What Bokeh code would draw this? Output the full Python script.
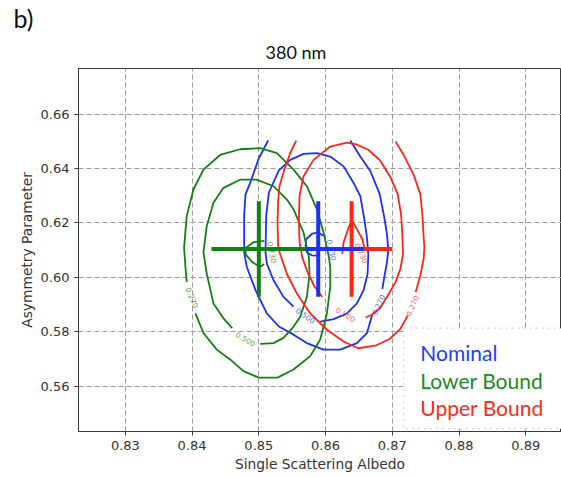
import math
from bokeh.plotting import figure
from bokeh.models import ColumnDataSource, FixedTicker, BoxAnnotation, Label, Title, Range1d
from bokeh.core.properties import value
from bokeh.embed import file_html
from bokeh.resources import INLINE

# ---------------- data ----------------
title_text = "380 nm"
panel_tag = "b)"
x_label = "Single Scattering Albedo"
y_label = "Asymmetry Parameter"
x_ticks = [0.83, 0.84, 0.85, 0.86, 0.87, 0.88, 0.89]
x_tick_labels = ["0.83", "0.84", "0.85", "0.86", "0.87", "0.88", "0.89"]
y_ticks = [0.56, 0.58, 0.60, 0.62, 0.64, 0.66]
y_tick_labels = ["0.56", "0.58", "0.60", "0.62", "0.64", "0.66"]

cases = ["Nominal", "Lower Bound", "Upper Bound"]
case_colors = ["#1a30ff", "#138013", "#ff2418"]
text_colors = ["#1f3cff", "#1f8a1f", "#ff2a1a"]

# best-fit retrieval and its uncertainty (Nominal, Lower Bound, Upper Bound)
ssa_best = [0.8589, 0.8500, 0.8639]
g_best = [0.6104, 0.6104, 0.6104]
ssa_err_lo = [0.0068, 0.0071, 0.0070]
ssa_err_hi = [0.0068, 0.0070, 0.0061]
g_err = [0.0176, 0.0176, 0.0176]

# contour paths (single scattering albedo, asymmetry parameter)
nominal_c270_ssa_a = [0.8514, 0.8500, 0.8487, 0.8480, 0.8478, 0.8478, 0.8482, 0.8495, 0.8512,
                      0.8530, 0.8552, 0.8572, 0.8597, 0.8622, 0.8647, 0.8662, 0.8670]
nominal_c270_g_a = [0.6503, 0.6438, 0.6347, 0.6305, 0.6226, 0.6092, 0.6038, 0.5953, 0.5867,
                    0.5819, 0.5789, 0.5758, 0.5734, 0.5734, 0.5758, 0.5795, 0.5863]
nominal_c270_ssa_b = [0.8685, 0.8688, 0.8692, 0.8694, 0.8692, 0.8688, 0.8681, 0.8667, 0.8652, 0.8637]
nominal_c270_g_b = [0.5957, 0.6001, 0.6056, 0.6100, 0.6158, 0.6220, 0.6307, 0.6391, 0.6444, 0.6503]
nominal_c500_ssa = [0.8592, 0.8612, 0.8632, 0.8647, 0.8657, 0.8663, 0.8664, 0.8662, 0.8658, 0.8652,
                    0.8642, 0.8627, 0.8607, 0.8587, 0.8567, 0.8547, 0.8530, 0.8515, 0.8511, 0.8510,
                    0.8512, 0.8522, 0.8537, 0.8552]
nominal_c500_g = [0.5837, 0.5846, 0.5867, 0.5904, 0.5953, 0.6013, 0.6085, 0.6147, 0.6214, 0.6299,
                  0.6347, 0.6408, 0.6444, 0.6457, 0.6454, 0.6432, 0.6393, 0.6311, 0.6226, 0.6092,
                  0.6050, 0.5989, 0.5928, 0.5892]
nominal_c730_ssa = [0.8597, 0.8589, 0.8580, 0.8571, 0.8570, 0.8572, 0.8579, 0.8587]
nominal_c730_g = [0.6153, 0.6165, 0.6161, 0.6140, 0.6117, 0.6092, 0.6081, 0.6080]

lower_c270_ssa = [0.8405, 0.8417, 0.8437, 0.8457, 0.8477, 0.8500, 0.8528, 0.8552, 0.8577, 0.8592,
                  0.8602, 0.8607, 0.8607, 0.8605, 0.8597, 0.8587, 0.8572, 0.8552, 0.8527, 0.8502,
                  0.8472, 0.8442, 0.8417, 0.8402, 0.8392, 0.8388, 0.8390, 0.8392]
lower_c270_g = [0.5867, 0.5795, 0.5734, 0.5698, 0.5655, 0.5631, 0.5631, 0.5661, 0.5710, 0.5771,
                0.5867, 0.5965, 0.6038, 0.6074, 0.6165, 0.6250, 0.6335, 0.6396, 0.6457, 0.6475,
                0.6471, 0.6450, 0.6396, 0.6323, 0.6226, 0.6110, 0.6038, 0.5983]
lower_c500_ssa = [0.8502, 0.8522, 0.8537, 0.8550, 0.8562, 0.8572, 0.8576, 0.8575, 0.8567, 0.8552,
                  0.8542, 0.8522, 0.8497, 0.8472, 0.8447, 0.8432, 0.8422, 0.8417, 0.8422, 0.8432,
                  0.8447, 0.8460]
lower_c500_g = [0.5755, 0.5758, 0.5777, 0.5812, 0.5855, 0.5928, 0.6013, 0.6074, 0.6165, 0.6250,
                0.6286, 0.6335, 0.6359, 0.6359, 0.6329, 0.6274, 0.6189, 0.6092, 0.6013, 0.5904,
                0.5849, 0.5813]
lower_c730_ssa = [0.8508, 0.8492, 0.8481, 0.8480, 0.8490, 0.8502, 0.8508]
lower_c730_g = [0.6134, 0.6129, 0.6110, 0.6085, 0.6056, 0.6038, 0.6049]

upper_c270_ssa_a = [0.8556, 0.8547, 0.8538, 0.8531, 0.8529, 0.8528, 0.8529, 0.8532, 0.8542,
                    0.8557, 0.8577, 0.8602, 0.8627, 0.8649, 0.8676, 0.8696, 0.8712, 0.8723]
upper_c270_g_a = [0.6503, 0.6457, 0.6395, 0.6336, 0.6285, 0.6202, 0.6110, 0.6085, 0.6013,
                  0.5940, 0.5867, 0.5807, 0.5764, 0.5739, 0.5750, 0.5773, 0.5810, 0.5859]
upper_c270_ssa_b = [0.8735, 0.8742, 0.8747, 0.8748, 0.8747, 0.8745, 0.8742, 0.8732, 0.8717, 0.8705]
upper_c270_g_b = [0.5946, 0.6007, 0.6068, 0.6110, 0.6147, 0.6232, 0.6305, 0.6377, 0.6450, 0.6499]
upper_c500_ssa = [0.8660, 0.8670, 0.8682, 0.8694, 0.8705, 0.8712, 0.8716, 0.8715, 0.8713, 0.8708,
                  0.8697, 0.8682, 0.8664, 0.8646, 0.8632, 0.8607, 0.8582, 0.8567, 0.8561, 0.8560,
                  0.8561, 0.8565, 0.8573, 0.8583, 0.8595]
upper_c500_g = [0.5852, 0.5863, 0.5888, 0.5936, 0.5983, 0.6030, 0.6085, 0.6161, 0.6234, 0.6307,
                0.6369, 0.6429, 0.6469, 0.6489, 0.6495, 0.6481, 0.6432, 0.6372, 0.6299, 0.6214,
                0.6129, 0.6074, 0.6019, 0.5968, 0.5928]
upper_c730_ssa = [0.8625, 0.8627, 0.8632, 0.8639, 0.8647, 0.8655, 0.8658]
upper_c730_g = [0.6086, 0.6129, 0.6165, 0.6212, 0.6177, 0.6141, 0.6110]

# inline contour labels
clabel_case = [1, 1, 1, 0, 0, 0, 2, 2, 2]
clabel_text = ["0.270", "0.500", "0.730", "0.730", "0.500", "0.270", "0.500", "0.270", "0.730"]
clabel_ssa = [0.8400, 0.8480, 0.8520, 0.8609, 0.8570, 0.8679, 0.8630, 0.8730, 0.8654]
clabel_g = [0.5925, 0.5773, 0.6092, 0.6100, 0.5859, 0.5899, 0.5863, 0.5895, 0.6089]
clabel_angle_deg = [-68, -30, -80, -78, -35, 66, -31, 66, -65]

# ---------------- figure ----------------
p = figure(width=561, height=477, output_backend="svg", toolbar_location=None,
           x_range=Range1d(0.82298, 0.89535), y_range=Range1d(0.54328, 0.67680),
           min_border_left=78, min_border_right=0, min_border_top=64, min_border_bottom=46)
p.background_fill_color = "white"
p.border_fill_color = "white"
p.outline_line_color = "#3a3a3a"
p.outline_line_width = 1

# outer title: panel tag
p.title.text = panel_tag
p.title.align = "left"
p.title.offset = -65
p.title.text_font = "Lato"
p.title.text_font_size = "25px"
p.title.text_font_style = "normal"
p.title.text_color = "#111111"
p.title.standoff = 0

# inner title: wavelength
sub = Title(text=title_text, align="left", offset=187, text_font="Lato",
            text_font_size="18px", text_font_style="normal", text_color="#111111", standoff=12)
p.add_layout(sub, "above")

for ax in (p.xaxis, p.yaxis):
    ax.axis_line_color = "#3a3a3a"
    ax.major_tick_line_color = "#3a3a3a"
    ax.major_tick_in = 0
    ax.major_tick_out = 4
    ax.minor_tick_line_color = None
    ax.major_label_text_font = "DejaVu Sans"
    ax.major_label_text_font_size = "13px"
    ax.major_label_text_color = "#333333"
    ax.axis_label_text_font = "DejaVu Sans"
    ax.axis_label_text_font_size = "13.8px"
    ax.axis_label_text_font_style = "normal"
    ax.axis_label_text_color = "#333333"

p.xaxis.ticker = FixedTicker(ticks=x_ticks)
p.xaxis.major_label_overrides = dict(zip(x_ticks, x_tick_labels))
p.yaxis.ticker = FixedTicker(ticks=y_ticks)
p.yaxis.major_label_overrides = dict(zip(y_ticks, y_tick_labels))
p.xaxis.axis_label = x_label
p.yaxis.axis_label = y_label
p.xaxis.major_label_standoff = 5
p.xaxis.axis_label_standoff = 3
p.yaxis.major_label_standoff = 5
p.yaxis.axis_label_standoff = 3

for g in (p.xgrid, p.ygrid):
    g.grid_line_color = "#9a9a9a"
    g.grid_line_width = 1
    g.grid_line_dash = "5 3"
p.xgrid.ticker = FixedTicker(ticks=x_ticks)
p.ygrid.ticker = FixedTicker(ticks=y_ticks)

# contours
contours = [
    (0, nominal_c270_ssa_a, nominal_c270_g_a), (0, nominal_c270_ssa_b, nominal_c270_g_b),
    (0, nominal_c500_ssa, nominal_c500_g), (0, nominal_c730_ssa, nominal_c730_g),
    (1, lower_c270_ssa, lower_c270_g), (1, lower_c500_ssa, lower_c500_g),
    (1, lower_c730_ssa, lower_c730_g),
    (2, upper_c270_ssa_a, upper_c270_g_a), (2, upper_c270_ssa_b, upper_c270_g_b),
    (2, upper_c500_ssa, upper_c500_g), (2, upper_c730_ssa, upper_c730_g),
]
for ci, xs, ys in contours:
    p.line(xs, ys, line_color=case_colors[ci], line_width=1.8, line_join="round")

lab_src = ColumnDataSource(dict(
    x=clabel_ssa, y=clabel_g, text=clabel_text,
    angle=[math.radians(a) for a in clabel_angle_deg],
    color=[case_colors[i] for i in clabel_case]))
p.text(x="x", y="y", text="text", angle="angle", source=lab_src, text_color="color",
       text_alpha=0.75, text_font=value("DejaVu Sans"), text_font_size="7.5px",
       text_align="center", text_baseline="middle")

# error bars (drawn Upper, Nominal, Lower)
for i in (2, 0, 1):
    p.segment(x0=[ssa_best[i] - ssa_err_lo[i]], y0=[g_best[i]],
              x1=[ssa_best[i] + ssa_err_hi[i]], y1=[g_best[i]],
              line_color=case_colors[i], line_width=4, line_cap="butt")
    p.segment(x0=[ssa_best[i]], y0=[g_best[i] - g_err[i]],
              x1=[ssa_best[i]], y1=[g_best[i] + g_err[i]],
              line_color=case_colors[i], line_width=4, line_cap="butt")

# legend box
box = BoxAnnotation(left=0.8717, right=0.9000, top=0.5813, bottom=0.5443,
                    fill_color="white", fill_alpha=1.0, line_color="#555555",
                    line_width=1, line_dash="dotted")
p.add_layout(box)
legend_y = [0.5724, 0.5622, 0.5520]
for i, name in enumerate(cases):
    p.add_layout(Label(x=0.8742, y=legend_y[i], text=name, text_color=text_colors[i],
                       text_font="Lato", text_font_size="21px", text_baseline="middle"))

open("out.html", "w").write(file_html(p, INLINE))
